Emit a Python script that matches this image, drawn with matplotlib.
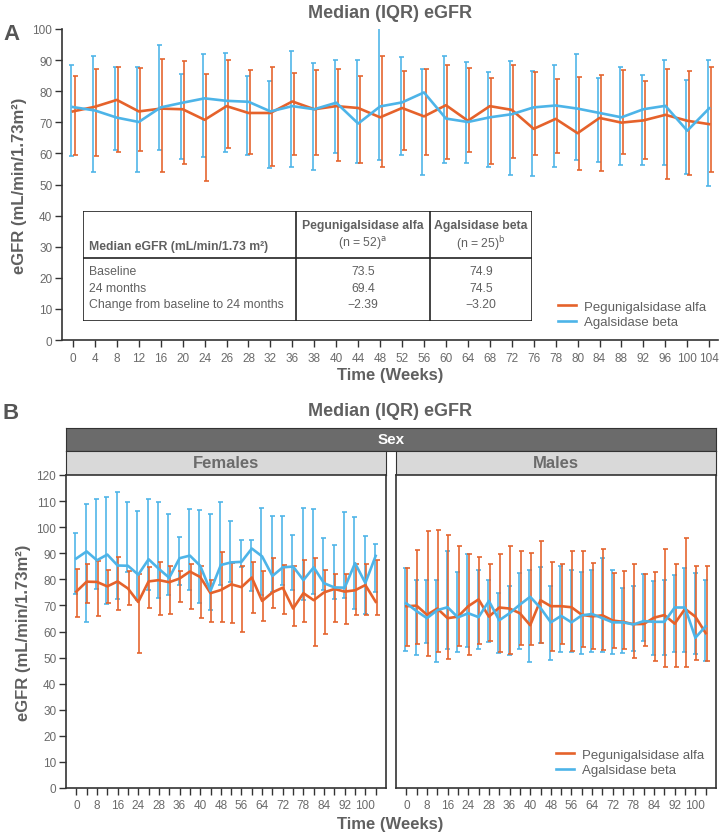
import numpy as np
import matplotlib
matplotlib.use("Agg")
import matplotlib.pyplot as plt
from matplotlib.patches import Rectangle

plt.rcParams['font.family'] = ['Liberation Sans', 'DejaVu Sans']

weeks = ["0", "4", "8", "12", "16", "20", "24", "26", "28", "32", "36", "38", "40", "44", "48",
         "52", "56", "60", "64", "68", "72", "76", "78", "80", "84", "88", "92", "96", "100", "104"]

# panel A - overall
a_pegu_med = [73.5, 75.0, 77.2, 73.5, 74.4, 74.2, 70.8, 75.2, 73.0, 73.0, 76.7, 74.2, 75.2, 74.6, 71.6,
              74.6, 71.9, 75.5, 70.5, 75.2, 74.0, 67.9, 71.1, 66.5, 71.4, 69.9, 70.6, 72.4, 70.5, 69.4]
a_pegu_q1 = [59.5, 59.2, 60.5, 60.8, 54.1, 56.5, 51.2, 61.8, 59.8, 55.9, 59.6, 59.6, 57.6, 57.0, 55.5,
             61.2, 59.6, 58.1, 60.3, 56.7, 58.4, 59.4, 60.0, 54.6, 54.2, 59.8, 58.3, 51.7, 52.9, 53.9]
a_pegu_q3 = [84.9, 87.1, 87.9, 87.6, 90.3, 89.8, 85.4, 89.9, 86.8, 87.7, 85.7, 86.7, 87.2, 84.8, 91.2,
             86.6, 87.1, 88.4, 87.3, 84.3, 88.3, 86.1, 84.0, 84.5, 85.2, 86.7, 83.4, 87.1, 86.5, 87.7]
a_agal_med = [74.9, 73.8, 71.5, 70.1, 74.8, 76.3, 77.7, 76.9, 76.6, 73.5, 75.2, 74.2, 76.3, 69.6, 75.1,
              76.4, 79.6, 71.2, 70.1, 71.6, 72.6, 74.8, 75.4, 74.4, 73.0, 71.6, 74.2, 75.3, 67.3, 74.5]
a_agal_q1 = [59.1, 53.9, 61.2, 54.1, 61.0, 58.3, 58.8, 60.4, 59.5, 55.3, 55.5, 54.8, 60.0, 56.8, 57.9,
             59.4, 53.1, 57.0, 57.0, 55.5, 53.1, 52.7, 55.7, 57.9, 57.3, 56.4, 56.4, 56.3, 53.5, 49.6]
a_agal_q3 = [88.4, 91.3, 87.9, 87.8, 94.9, 85.6, 92.1, 92.2, 85.0, 83.2, 92.8, 89.2, 90.0, 89.9, 100.8,
             91.0, 87.1, 91.3, 89.4, 86.1, 89.7, 86.5, 88.4, 92.1, 84.1, 87.7, 85.2, 90.0, 83.5, 89.9]

# panel B - females
f_pegu_med = [75.3, 79.1, 79.0, 77.3, 79.2, 76.5, 71.3, 79.2, 79.7, 78.9, 80.3, 83.0, 80.9, 74.7, 75.9,
              78.1, 77.0, 80.7, 71.7, 75.0, 76.8, 68.8, 74.7, 72.0, 75.0, 76.3, 75.3, 75.8, 77.8, 71.4]
f_pegu_q1 = [65.5, 71.0, 65.9, 71.0, 68.2, 70.0, 51.8, 69.0, 66.4, 66.9, 71.3, 68.6, 65.0, 63.8, 63.8,
             63.1, 59.9, 67.0, 64.2, 69.0, 66.8, 62.2, 63.6, 54.6, 59.0, 63.6, 62.8, 66.5, 66.2, 66.5]
f_pegu_q3 = [83.8, 86.0, 87.0, 83.7, 88.7, 83.1, 81.9, 84.9, 86.7, 85.0, 83.1, 85.9, 85.1, 79.7, 90.5,
             86.2, 85.1, 86.7, 83.2, 88.1, 85.5, 85.1, 87.3, 88.1, 83.7, 82.2, 82.1, 86.0, 86.0, 87.4]
f_agal_med = [88.0, 90.7, 87.3, 89.5, 85.3, 85.2, 81.8, 87.7, 84.0, 80.6, 88.1, 89.1, 85.2, 75.6, 85.5,
              86.5, 86.7, 91.8, 88.8, 81.3, 84.6, 84.9, 79.7, 84.6, 78.5, 76.9, 76.8, 86.2, 78.6, 89.0]
f_agal_q1 = [74.3, 63.7, 76.2, 70.4, 72.3, 82.7, 72.0, 76.0, 72.7, 74.0, 77.8, 76.0, 71.0, 68.2, 78.0,
             79.0, 84.9, 75.5, 74.0, 75.0, 78.0, 75.8, 72.0, 74.2, 76.0, 72.3, 73.0, 68.5, 66.9, 75.0]
f_agal_q3 = [97.7, 108.8, 110.9, 111.4, 113.5, 109.7, 106.3, 110.9, 109.6, 104.9, 96.4, 107.0, 106.6, 104.9, 109.6,
             102.2, 94.9, 95.0, 107.2, 104.3, 104.3, 96.9, 107.2, 106.9, 96.0, 93.0, 105.9, 103.9, 96.7, 93.6]

# panel B - males
m_pegu_med = [69.7, 69.9, 66.4, 68.8, 65.1, 65.7, 69.7, 72.3, 65.7, 69.2, 68.8, 67.0, 62.4, 72.0, 69.7,
              69.7, 69.3, 66.4, 65.8, 66.2, 64.2, 63.7, 62.8, 62.9, 65.3, 66.3, 63.0, 68.7, 65.7, 59.4]
m_pegu_q1 = [54.3, 55.3, 50.5, 52.3, 49.5, 54.6, 50.8, 55.1, 56.2, 52.1, 51.4, 54.8, 54.7, 55.6, 52.5,
             55.3, 52.4, 53.9, 53.2, 52.8, 53.6, 53.4, 49.8, 54.3, 48.7, 46.4, 46.5, 46.5, 49.2, 48.8]
m_pegu_q3 = [84.3, 91.3, 98.5, 99.0, 97.0, 92.6, 89.6, 88.7, 85.8, 89.7, 92.6, 90.9, 90.1, 94.6, 86.7,
             85.7, 90.8, 90.8, 86.2, 91.8, 82.4, 83.3, 86.0, 82.1, 82.8, 91.8, 86.0, 96.0, 85.0, 85.0]
m_agal_med = [70.8, 67.8, 65.1, 68.2, 69.3, 65.4, 67.0, 65.5, 71.7, 64.3, 67.0, 70.3, 73.3, 69.0, 63.5,
              66.0, 63.5, 66.2, 66.7, 65.1, 63.5, 63.5, 62.7, 64.0, 63.7, 63.7, 69.2, 69.2, 57.6, 62.0]
m_agal_q1 = [52.4, 50.8, 55.6, 48.3, 53.1, 52.3, 54.2, 53.4, 56.0, 51.7, 50.9, 53.3, 48.3, 55.6, 49.1,
             52.3, 52.3, 51.2, 52.3, 52.1, 51.4, 51.8, 52.5, 56.4, 51.0, 50.9, 52.3, 52.3, 51.4, 48.8]
m_agal_q3 = [84.3, 79.7, 79.7, 79.7, 90.9, 82.8, 89.7, 83.4, 79.8, 74.9, 77.6, 82.4, 83.7, 84.9, 77.6,
             85.0, 83.7, 82.8, 83.6, 88.1, 83.6, 76.8, 77.6, 82.0, 79.5, 79.9, 81.5, 84.3, 82.3, 79.9]

# summary table
table_rows = ["Baseline", "24 months", "Change from baseline to 24 months"]
pegu_vals = ["73.5", "69.4", "\u22122.39"]
agal_vals = ["74.9", "74.5", "\u22123.20"]

ORANGE = "#E5622B"
BLUE = "#4DB4E8"
GREY = "#606060"
TICK = "#6a6a6a"
TK = 8.5    # tick label size
TBL = 8.8   # table text size

fig = plt.figure(figsize=(7.2, 8.37), dpi=100)
x = np.arange(len(weeks))


def draw_series(ax, med, q1, q3, color, dx):
    med = np.array(med)
    err = [med - np.array(q1), np.array(q3) - med]
    ax.errorbar(x + dx, med, yerr=err, fmt='none', ecolor=color, elinewidth=1.3,
                capsize=1.8, capthick=1.3, alpha=0.9)


def draw_line(ax, med, color, label):
    ax.plot(x, med, color=color, lw=1.9, label=label)


# ---------------- panel A ----------------
axA = fig.add_axes([62 / 720, 1 - 341 / 837, 656 / 720, 311 / 837])
draw_series(axA, a_agal_med, a_agal_q1, a_agal_q3, BLUE, -0.07)
draw_series(axA, a_pegu_med, a_pegu_q1, a_pegu_q3, ORANGE, 0.07)
draw_line(axA, a_pegu_med, ORANGE, "Pegunigalsidase alfa")
draw_line(axA, a_agal_med, BLUE, "Agalsidase beta")
axA.set_xlim(-0.5, 29.4)
axA.set_ylim(0, 100)
axA.set_yticks(np.arange(0, 101, 10))
axA.set_xticks(x)
axA.set_xticklabels(weeks)
for s in ["top", "right"]:
    axA.spines[s].set_visible(False)
for s in ["left", "bottom"]:
    axA.spines[s].set_color("#333333")
    axA.spines[s].set_linewidth(1.2)
axA.tick_params(colors="#333333", labelcolor=TICK, labelsize=TK, length=5, width=1)
axA.tick_params(axis='x', pad=4)
axA.tick_params(axis='y', pad=2)
axA.set_xlabel("Time (Weeks)", fontsize=12, fontweight="bold", color=GREY, labelpad=2)
axA.set_ylabel("eGFR (mL/min/1.73m\u00b2)", fontsize=12, fontweight="bold", color=GREY, labelpad=4)
fig.text(390 / 720, 1 - 13 / 837, "Median (IQR) eGFR", fontsize=13, fontweight="bold", color=GREY,
         ha="center", va="center")
legA = axA.legend(loc="lower right", bbox_to_anchor=(1.0, 0.0), frameon=False, fontsize=9.5,
                  handlelength=1.4, labelspacing=0.25, handletextpad=0.6)
for t in legA.get_texts():
    t.set_color(GREY)
fig.text(3 / 720, 1 - 35 / 837, "A", fontsize=16, fontweight="bold", color="#555555", va="center")

# summary table in panel A
axT = fig.add_axes([83 / 720, 1 - 322 / 837, 449 / 720, 110 / 837])
axT.set_xlim(83, 532)
axT.set_ylim(322, 212)
axT.axis("off")
axT.add_patch(Rectangle((83, 212), 449, 110, facecolor="white", edgecolor="#222222", lw=1.2))
axT.plot([83, 532], [259, 259], color="#222222", lw=1.2)
for cx in [296, 430]:
    axT.plot([cx, cx], [212, 322], color="#222222", lw=1.2)
axT.text(89, 247, "Median eGFR (mL/min/1.73 m\u00b2)", fontsize=TBL, fontweight="bold", color=GREY, va="center")
axT.text(363, 226, "Pegunigalsidase alfa", fontsize=TBL, fontweight="bold", color=GREY, ha="center", va="center")
axT.text(363, 244, "(n = 52)$^{\\rm a}$", fontsize=TBL, color=GREY, ha="center", va="center")
axT.text(481, 226, "Agalsidase beta", fontsize=TBL, fontweight="bold", color=GREY, ha="center", va="center")
axT.text(481, 244, "(n = 25)$^{\\rm b}$", fontsize=TBL, color=GREY, ha="center", va="center")
for i, (lab, p, a) in enumerate(zip(table_rows, pegu_vals, agal_vals)):
    yy = 272 + i * 16.5
    axT.text(89, yy, lab, fontsize=TBL, color=GREY, va="center")
    axT.text(363, yy, p, fontsize=TBL, color=GREY, ha="center", va="center")
    axT.text(481, yy, a, fontsize=TBL, color=GREY, ha="center", va="center")

# ---------------- panel B ----------------
fig.text(3 / 720, 1 - 414 / 837, "B", fontsize=16, fontweight="bold", color="#555555", va="center")
fig.text(390 / 720, 1 - 411 / 837, "Median (IQR) eGFR", fontsize=13, fontweight="bold", color=GREY,
         ha="center", va="center")

# Sex strip
stripS = fig.add_axes([66 / 720, 1 - 452 / 837, 650 / 720, 23 / 837])
stripS.set_facecolor("#6b6b6b")
stripS.set_xticks([])
stripS.set_yticks([])
for s in stripS.spines.values():
    s.set_color("#333333")
stripS.text(0.5, 0.5, "Sex", transform=stripS.transAxes, ha="center", va="center",
            fontsize=11, fontweight="bold", color="white")

facets = [("Females", 66, f_pegu_med, f_pegu_q1, f_pegu_q3, f_agal_med, f_agal_q1, f_agal_q3),
          ("Males", 396, m_pegu_med, m_pegu_q1, m_pegu_q3, m_agal_med, m_agal_q1, m_agal_q3)]
pw = 320
for k, (name, left, pm, pq1, pq3, am, aq1, aq3) in enumerate(facets):
    strip = fig.add_axes([left / 720, 1 - 476 / 837, pw / 720, 24 / 837])
    strip.set_facecolor("#d9d9d9")
    strip.set_xticks([])
    strip.set_yticks([])
    for s in strip.spines.values():
        s.set_color("#333333")
    strip.text(0.5, 0.5, name, transform=strip.transAxes, ha="center", va="center",
               fontsize=12, fontweight="bold", color="#6b6b6b")

    ax = fig.add_axes([left / 720, 1 - 789 / 837, pw / 720, 313 / 837])
    draw_series(ax, am, aq1, aq3, BLUE, -0.08)
    draw_series(ax, pm, pq1, pq3, ORANGE, 0.08)
    draw_line(ax, pm, ORANGE, "Pegunigalsidase alfa")
    draw_line(ax, am, BLUE, "Agalsidase beta")
    ax.set_xlim(-1.0, 30.0)
    ax.set_ylim(0, 120)
    ax.set_yticks(np.arange(0, 121, 10))
    ax.set_xticks(x)
    ax.set_xticklabels([w if i % 2 == 0 else "" for i, w in enumerate(weeks)])
    for s in ax.spines.values():
        s.set_color("#333333")
        s.set_linewidth(1.2)
    ax.tick_params(colors="#333333", labelcolor=TICK, labelsize=TK, length=5, width=1)
    ax.tick_params(axis='x', pad=3)
    ax.tick_params(axis='y', pad=2)
    if k == 0:
        ax.set_ylabel("eGFR (mL/min/1.73m\u00b2)", fontsize=12, fontweight="bold", color=GREY, labelpad=4)
    else:
        ax.tick_params(axis='y', left=False, labelleft=False)
        legB = ax.legend(loc="lower right", bbox_to_anchor=(1.0, 0.0), frameon=False, fontsize=9.5,
                         handlelength=1.4, labelspacing=0.25, handletextpad=0.6)
        for t in legB.get_texts():
            t.set_color(GREY)

fig.text(390 / 720, 1 - 825 / 837, "Time (Weeks)", fontsize=12, fontweight="bold", color=GREY,
         ha="center", va="center")

fig.savefig("out.png", dpi=100)
